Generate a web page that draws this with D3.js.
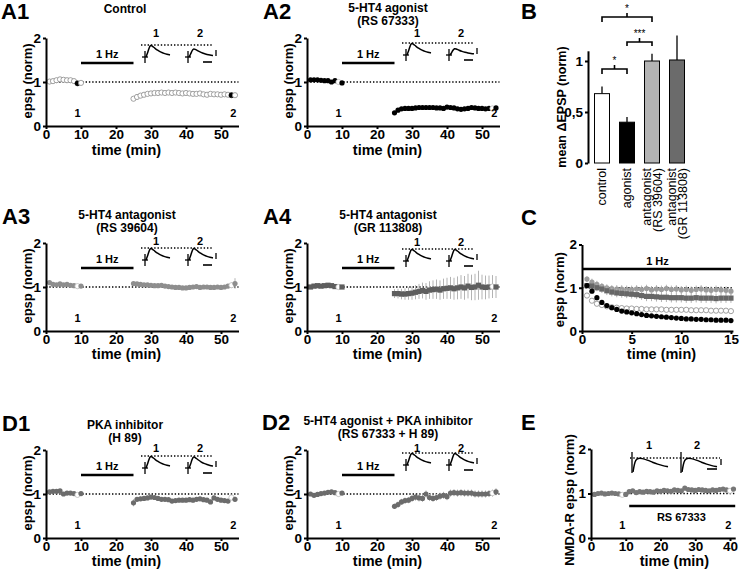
<!DOCTYPE html>
<html><head><meta charset="utf-8">
<script src="https://cdn.jsdelivr.net/npm/d3@7"></script>
<style>body{margin:0;background:#fff}svg{display:block}</style>
</head><body><svg id="c" width="745" height="569"></svg>
<script>
// ---------------- DATA ----------------
const baseTimes = [1,2,3,4,5,6,7,8,9,10];
const postTimes = [25,26,27,28,29,30,31,32,33,34,35,36,37,38,39,40,41,42,43,44,45,46,47,48,49,50,51,52,53,54];
const sampleIdx = [8, 38]; // sample points "1" (t=9) and "2" (t=53)

const ctrlBase = [1.01,1.02,1.04,1.06,1.05,1.04,1.04,1.02,0.97,0.98];
const ctrlPost = [0.62,0.66,0.69,0.71,0.73,0.74,0.75,0.75,0.76,0.75,0.76,0.75,0.76,0.75,0.74,0.75,0.74,0.73,0.73,0.74,0.72,0.71,0.73,0.72,0.72,0.71,0.72,0.71,0.70,0.70];

const agoBase = [1.05,1.05,1.05,1.04,1.03,1.03,1.00,1.03,1.00,0.98];
const agoPost = [0.30,0.36,0.39,0.40,0.40,0.40,0.41,0.42,0.42,0.42,0.42,0.42,0.41,0.41,0.40,0.43,0.42,0.41,0.39,0.38,0.39,0.40,0.42,0.41,0.40,0.40,0.39,0.40,0.40,0.41];

const rsBase = [1.10,1.06,1.05,1.07,1.05,1.06,1.04,1.03,1.02,1.02];
const rsPost = [1.08,1.07,1.06,1.05,1.05,1.04,1.03,1.03,1.04,1.02,1.01,1.00,0.99,0.99,0.98,0.98,0.99,1.00,1.01,0.99,1.00,1.00,0.99,0.99,1.00,0.99,1.00,1.02,1.04,1.08];
const rsErrBase = [0.04,0.03,0.03,0.03,0.03,0.03,0.03,0.03,0.03,0.03];
const rsErrPost = [0.04,0.03,0.03,0.03,0.03,0.03,0.03,0.03,0.03,0.03,0.03,0.03,0.03,0.03,0.03,0.03,0.03,0.03,0.03,0.03,0.03,0.03,0.03,0.03,0.03,0.03,0.04,0.05,0.06,0.12];

const grBase = [1.00,1.02,1.03,1.02,1.03,1.04,1.03,1.01,1.00,1.00];
const grPost = [0.85,0.85,0.84,0.84,0.85,0.86,0.88,0.90,0.92,0.90,0.93,0.94,0.95,0.93,0.96,0.97,0.98,0.96,0.98,1.00,0.98,1.02,0.99,1.00,1.04,1.00,0.99,1.00,1.01,1.00];
const grErrBase = [0.03,0.03,0.03,0.03,0.03,0.03,0.03,0.03,0.03,0.03];
const grErrPost = [0.10,0.11,0.12,0.13,0.14,0.15,0.16,0.17,0.18,0.19,0.20,0.21,0.22,0.22,0.23,0.24,0.25,0.25,0.26,0.27,0.27,0.28,0.29,0.30,0.33,0.28,0.27,0.26,0.26,0.25];

const h89Base = [1.05,1.06,1.06,1.07,1.00,1.02,1.02,1.01,0.98,1.01];
const h89Post = [0.80,0.88,0.89,0.90,0.91,0.93,0.92,0.90,0.88,0.88,0.87,0.84,0.85,0.86,0.86,0.86,0.87,0.86,0.88,0.89,0.87,0.86,0.82,0.91,0.88,0.86,0.85,0.84,0.92,0.88];
const h89ErrBase = [0.03,0.03,0.03,0.03,0.03,0.03,0.03,0.03,0.03,0.03];
const h89ErrPost = [0.08,0.05,0.05,0.05,0.05,0.05,0.05,0.05,0.05,0.05,0.05,0.05,0.05,0.05,0.05,0.05,0.05,0.05,0.05,0.05,0.05,0.05,0.05,0.05,0.05,0.05,0.05,0.05,0.06,0.06];

const agoH89Base = [1.00,0.97,0.99,1.01,1.02,1.04,1.05,1.03,1.00,1.02];
const agoH89Post = [0.72,0.76,0.82,0.85,0.86,0.90,0.93,0.91,0.90,1.00,0.92,0.90,0.92,0.95,0.97,0.94,1.02,1.03,1.02,1.03,1.02,1.02,1.02,1.00,1.00,1.00,1.00,1.01,1.02,1.05];
const agoH89ErrBase = [0.03,0.03,0.03,0.03,0.03,0.03,0.03,0.03,0.03,0.03];
const agoH89ErrPost = [0.06,0.07,0.07,0.07,0.07,0.08,0.08,0.08,0.08,0.08,0.08,0.08,0.08,0.08,0.08,0.08,0.08,0.08,0.08,0.08,0.08,0.08,0.08,0.08,0.08,0.08,0.08,0.08,0.08,0.08];

// Panel C (first 15 min of 1 Hz)
const cTimes = [0.5,1,1.5,2,2.5,3,3.5,4,4.5,5,5.5,6,6.5,7,7.5,8,8.5,9,9.5,10,10.5,11,11.5,12,12.5,13,13.5,14,14.5,15];
const cAgonist = [1.05,0.92,0.77,0.66,0.59,0.54,0.50,0.46,0.44,0.42,0.40,0.38,0.36,0.35,0.34,0.33,0.32,0.31,0.30,0.29,0.28,0.28,0.27,0.27,0.26,0.26,0.25,0.25,0.25,0.24];
const cControl = [0.82,0.70,0.63,0.60,0.57,0.55,0.54,0.53,0.52,0.52,0.51,0.51,0.50,0.50,0.50,0.50,0.49,0.49,0.49,0.49,0.49,0.48,0.48,0.48,0.48,0.47,0.47,0.47,0.47,0.46];
const cControlErr = [0.06,0.05,0.05,0.05,0.05,0.05,0.05,0.05,0.05,0.05,0.05,0.05,0.05,0.05,0.05,0.05,0.05,0.05,0.05,0.05,0.05,0.05,0.05,0.05,0.05,0.05,0.05,0.05,0.05,0.05];
const cRS = [1.20,1.13,1.08,1.03,1.00,0.98,0.97,0.97,0.96,0.96,0.97,0.96,0.98,0.95,0.97,0.96,0.98,0.96,0.97,0.95,0.96,0.94,0.96,0.97,0.95,0.94,0.96,0.95,0.94,0.92];
const cRSErr = [0.07,0.08,0.08,0.08,0.08,0.08,0.09,0.09,0.09,0.09,0.09,0.09,0.09,0.09,0.09,0.09,0.09,0.09,0.09,0.09,0.09,0.09,0.09,0.09,0.09,0.09,0.09,0.09,0.09,0.09];
const cGR = [1.05,1.04,1.00,0.97,0.93,0.90,0.88,0.87,0.86,0.85,0.84,0.82,0.80,0.80,0.79,0.78,0.78,0.77,0.77,0.77,0.76,0.76,0.77,0.76,0.76,0.76,0.75,0.76,0.76,0.76];
const cGRErr = [0.06,0.07,0.08,0.09,0.10,0.10,0.10,0.10,0.10,0.10,0.10,0.10,0.11,0.11,0.11,0.11,0.11,0.11,0.11,0.11,0.11,0.11,0.11,0.11,0.11,0.11,0.11,0.11,0.11,0.11];

// Panel B
const bCategories = ["control","agonist","antagonist (RS 39604)","antagonist (GR 113808)"];
const bLabelLines = [["control"],["agonist"],["antagonist","(RS 39604)"],["antagonist","(GR 113808)"]];
const bMeans = [0.68,0.40,1.00,1.01];
const bSem = [0.07,0.05,0.07,0.24];
const bSig = [["control","agonist","*"],["agonist","antagonist (RS 39604)","***"],["control","antagonist (RS 39604)","*"]];

// Panel E (NMDA-R epsp, RS 67333 from t=11)
const eTimes = [1,2,3,4,5,6,7,8,9,10,11,12,13,14,15,16,17,18,19,20,21,22,23,24,25,26,27,28,29,30,31,32,33,34,35,36,37,38,39,40,41];
const eValues = [0.98,1.00,1.01,0.99,1.00,1.01,1.00,0.99,0.97,0.98,1.04,1.06,1.02,1.04,1.03,1.05,1.04,1.03,1.06,1.05,1.07,1.06,1.05,1.08,1.07,1.06,1.12,1.09,1.08,1.07,1.09,1.08,1.07,1.06,1.08,1.07,1.09,1.10,1.08,1.06,1.10];
const eSampleIdx = [8, 39];

// Ticks
const yTicks = [0,1,2];
const timeTicks = [0,10,20,30,40,50];
const cTicks = [0,5,10,15];
const eTicks = [0,10,20,30,40];
const bTicks = [0,0.5,1];

// Inset example traces (normalized epsp shapes)
const epspShape = [[0,0],[1,0.3],[2,0.75],[3,1],[4,0.93],[6,0.72],[8,0.54],[10,0.4],[12,0.3],[14,0.22],[16,0.17]];
const nmdaShape = [[0,0],[1,0.55],[2,0.85],[4,1],[7,0.97],[11,0.85],[15,0.7],[19,0.56],[23,0.45],[27,0.38]];

// ---------------- DRAWING ----------------
const FONT = '"Liberation Sans", Arial, Helvetica, sans-serif';
const svg = d3.select("#c");
svg.append("rect").attr("width",745).attr("height",569).attr("fill","#fff");

function txt(g, x, y, s, opt={}) {
  const t = g.append("text").attr("x", x).attr("y", y).text(s)
    .attr("font-family", FONT).attr("font-size", opt.size || 12)
    .attr("font-weight", opt.weight || "bold").attr("fill", "#000")
    .attr("text-anchor", opt.anchor || "middle");
  if (opt.rotate) t.attr("transform", `rotate(-90,${x},${y})`);
  if (opt.dy) t.attr("dy", opt.dy);
  return t;
}
function styleAxis(sel, fs) {
  sel.select(".domain").attr("stroke","#000").attr("stroke-width",2);
  sel.selectAll(".tick line").attr("stroke","#000").attr("stroke-width",2);
  sel.selectAll(".tick text").attr("font-family",FONT).attr("font-size",fs||13.5)
    .attr("font-weight","bold").attr("fill","#000");
}
function dotted(g, x1, x2, y) {
  g.append("line").attr("x1",x1).attr("x2",x2).attr("y1",y).attr("y2",y)
   .attr("stroke","#000").attr("stroke-width",1.4).attr("stroke-dasharray","1.4 1.9");
}
function drawPoints(g, x, y, t, v, err, style, highlight) {
  const data = t.map((tt,i)=>({t:tt, v:v[i], e: err ? err[i] : 0, i}));
  if (err) {
    g.append("g").selectAll("line").data(data).join("line")
     .attr("x1",d=>x(d.t)).attr("x2",d=>x(d.t))
     .attr("y1",d=>y(d.v-d.e)).attr("y2",d=>y(d.v+d.e))
     .attr("stroke","#b3b3b3").attr("stroke-width",1);
  }
  const pg = g.append("g");
  data.forEach(d => {
    const hl = highlight && highlight.includes(d.i);
    let fill = style.fill, stroke = style.stroke || "none", sw = style.sw || 0;
    if (hl) {
      if (style.open) { fill = "#000"; stroke = "#000"; sw = 0.5; }
      else { fill = "#fff"; stroke = "#bbb"; sw = 0.8; }
    }
    if (style.shape === "square" && !hl) {
      pg.append("rect").attr("x", x(d.t)-2.6).attr("y", y(d.v)-2.6).attr("width",5.2).attr("height",5.2)
        .attr("fill", fill).attr("stroke", stroke).attr("stroke-width", sw);
    } else {
      pg.append("circle").attr("cx", x(d.t)).attr("cy", y(d.v)).attr("r", style.r || 2.6)
        .attr("fill", fill).attr("stroke", stroke).attr("stroke-width", sw);
    }
  });
}
function drawInset(g, ox, dotY, amps, lblDy) {
  dotted(g, ox+95, ox+167, dotY);
  const amp = 12, base = dotY + amp;
  const line = d3.line().curve(d3.curveBasis);
  [[ox+99, amps[0], "1", ox+110], [ox+142, amps[1], "2", ox+154]].forEach(([sx,a,lab,lx]) => {
    g.append("line").attr("x1",sx).attr("x2",sx).attr("y1",base-6).attr("y2",base+6).attr("stroke","#000").attr("stroke-width",1.3);
    g.append("line").attr("x1",sx-3).attr("x2",sx+3).attr("y1",base).attr("y2",base).attr("stroke","#000").attr("stroke-width",1.3);
    const tx = d3.scaleLinear().domain([0,16]).range([sx+1, sx+25]);
    const ty = d3.scaleLinear().domain([0,1]).range([base, base - a*amp]);
    g.append("path").attr("d", line(epspShape.map(p=>[tx(p[0]), ty(p[1])])))
      .attr("fill","none").attr("stroke","#000").attr("stroke-width",1.5);
    txt(g, lx, dotY + (lblDy||-4), lab, {size:11});
  });
  g.append("line").attr("x1",ox+170).attr("x2",ox+170).attr("y1",base-7).attr("y2",base-1).attr("stroke","#000").attr("stroke-width",1.3);
  g.append("line").attr("x1",ox+157).attr("x2",ox+166).attr("y1",base+5).attr("y2",base+5).attr("stroke","#000").attr("stroke-width",1.6);
}

function timePanel(o) {
  const g = svg.append("g");
  const x = d3.scaleLinear().domain([0, 55]).range([o.x0, o.x0 + 55*3.5]);
  const y = d3.scaleLinear().domain([0, 2]).range([o.y0, o.y0 - 88]);
  dotted(g, x(0), x(55), y(1));
  // 1 Hz stimulation bar
  g.append("line").attr("x1",x(10)).attr("x2",x(25)).attr("y1",y(2)+25).attr("y2",y(2)+25).attr("stroke","#000").attr("stroke-width",2.6);
  txt(g, x(17.5), y(2)+20, "1 Hz", {size:11});
  const t = baseTimes.concat(postTimes);
  const v = o.base.concat(o.post);
  const e = o.errBase ? o.errBase.concat(o.errPost) : null;
  drawPoints(g, x, y, t, v, e, o.style, sampleIdx);
  const ya = g.append("g").attr("transform",`translate(${o.x0},0)`)
    .call(d3.axisLeft(y).tickValues(yTicks).tickFormat(d3.format("d")).tickSize(3).tickSizeOuter(0).tickPadding(2));
  styleAxis(ya);
  const xa = g.append("g").attr("transform",`translate(0,${o.y0})`)
    .call(d3.axisBottom(x).tickValues(timeTicks).tickFormat(d3.format("d")).tickSize(3).tickSizeOuter(0).tickPadding(0));
  styleAxis(xa);
  txt(g, o.x0-19, y(1)-1, "epsp (norm)", {size:13, rotate:true, dy:"0.35em"});
  txt(g, x(23), o.y0+o.xtDy, "time (min)", {size:14.5});
  txt(g, x(9), o.y0-9, "1", {size:11});
  txt(g, x(53.5), o.y0-9, "2", {size:11});
  o.title.forEach((s,i)=> txt(g, o.titleX, o.titleY + i*13, s, {size:12}));
  txt(g, o.letterX, o.letterY, o.letter, {size:22, anchor:"start"});
  drawInset(g, o.x0, o.dotY, o.amps, o.lblDy);
}

timePanel({x0:46, y0:126, base:ctrlBase, post:ctrlPost, style:{fill:"#fff", stroke:"#8a8a8a", sw:0.8, open:true},
  title:["Control"], titleX:125, titleY:13, letter:"A1", letterX:1, letterY:19, dotY:45, amps:[1,0.7], lblDy:-8, xtDy:29});
timePanel({x0:307, y0:126, base:agoBase, post:agoPost, style:{fill:"#000"},
  title:["5-HT4 agonist","(RS 67333)"], titleX:388, titleY:12, letter:"A2", letterX:263, letterY:19, dotY:43, amps:[1,0.55], lblDy:-6, xtDy:29});
timePanel({x0:46, y0:331, base:rsBase, post:rsPost, errBase:rsErrBase, errPost:rsErrPost, style:{fill:"#8e8e8e"},
  title:["5-HT4 antagonist","(RS 39604)"], titleX:127, titleY:219, letter:"A3", letterX:2, letterY:224, dotY:248, amps:[1,1], lblDy:-3, xtDy:28});
timePanel({x0:307, y0:331, base:grBase, post:grPost, errBase:grErrBase, errPost:grErrPost, style:{fill:"#5e5e5e", shape:"square"},
  title:["5-HT4 antagonist","(GR 113808)"], titleX:388, titleY:219, letter:"A4", letterX:263, letterY:224, dotY:249, amps:[1,1], lblDy:-3, xtDy:28});
timePanel({x0:46, y0:538, base:h89Base, post:h89Post, errBase:h89ErrBase, errPost:h89ErrPost, style:{fill:"#6c6c6c"},
  title:["PKA inhibitor","(H 89)"], titleX:125, titleY:429, letter:"D1", letterX:2, letterY:431, dotY:456, amps:[1,0.95], lblDy:-4, xtDy:28});
timePanel({x0:307, y0:538, base:agoH89Base, post:agoH89Post, errBase:agoH89ErrBase, errPost:agoH89ErrPost, style:{fill:"#6c6c6c"},
  title:["5-HT4 agonist + PKA inhibitor","(RS 67333 + H 89)"], titleX:388, titleY:425, letter:"D2", letterX:262, letterY:430, dotY:453, amps:[1,1], lblDy:-1, xtDy:28});

// ---------- Panel B ----------
(function(){
  const g = svg.append("g");
  const x = d3.scaleBand().domain(bCategories).range([589.5, 689.5]).paddingInner(0.4).paddingOuter(0.2);
  const y = d3.scaleLinear().domain([0, 1.1]).range([163, 163 - 1.1*102]);
  const fills = ["#fff","#000","#b3b3b3","#6b6b6b"];
  g.selectAll("line.err").data(bMeans).join("line")
    .attr("x1",(d,i)=>x(bCategories[i])+x.bandwidth()/2).attr("x2",(d,i)=>x(bCategories[i])+x.bandwidth()/2)
    .attr("y1",d=>y(d)).attr("y2",(d,i)=>y(d+bSem[i])).attr("stroke","#000").attr("stroke-width",1.3);
  g.selectAll("rect").data(bMeans).join("rect")
    .attr("x",(d,i)=>x(bCategories[i])).attr("width",x.bandwidth())
    .attr("y",d=>y(d)).attr("height",d=>y(0)-y(d))
    .attr("fill",(d,i)=>fills[i]).attr("stroke","#000").attr("stroke-width",1);
  const ya = g.append("g").attr("transform","translate(588,0)")
    .call(d3.axisLeft(y).tickValues(bTicks).tickFormat(d=>d===0.5?"0,5":d3.format("d")(d)).tickSize(3).tickSizeOuter(0).tickPadding(2));
  styleAxis(ya);
  bLabelLines.forEach((lines,i)=>{
    const cx = x(bCategories[i]) + x.bandwidth()/2;
    lines.forEach((s,j)=>{
      const lx = cx + (j - (lines.length-1)/2)*10.5;
      txt(g, lx, 168, s, {size:12.5, weight:"normal", anchor:"end", rotate:true, dy:"0.35em"});
    });
  });
  txt(g, 562, 107, "mean \u0394EPSP (norm)", {size:12.5, rotate:true, dy:"0.35em"});
  const sigY = [69, 42, 17];
  bSig.forEach(([a,b,lab],k)=>{
    const xa = x(a)+x.bandwidth()/2, xb = x(b)+x.bandwidth()/2, yy = sigY[k];
    const arm = k===1 ? 4 : 5;
    g.append("path").attr("d",`M${xa},${yy+arm}V${yy}H${xb}V${yy+arm}M${(xa+xb)/2},${yy}V${yy-4}`)
      .attr("fill","none").attr("stroke","#000").attr("stroke-width",1.6);
    txt(g, (xa+xb)/2, yy-5, lab, {size:10, weight:"normal"});
  });
  txt(g, 521, 19, "B", {size:22, anchor:"start"});
})();

// ---------- Panel C ----------
(function(){
  const g = svg.append("g");
  const x = d3.scaleLinear().domain([0, 15.2]).range([582, 582 + 15.2*9.93]);
  const y = d3.scaleLinear().domain([0, 2]).range([331, 331 - 86.5]);
  dotted(g, x(0), x(15.2), y(1));
  g.append("line").attr("x1",x(0)).attr("x2",x(15)).attr("y1",269).attr("y2",269).attr("stroke","#000").attr("stroke-width",2.6);
  txt(g, x(7.6), 265, "1 Hz", {size:11});
  drawPoints(g, x, y, cTimes, cRS, cRSErr, {fill:"#9c9c9c"});
  drawPoints(g, x, y, cTimes, cGR, cGRErr, {fill:"#676767", shape:"square"});
  drawPoints(g, x, y, cTimes, cControl, cControlErr, {fill:"#fff", stroke:"#8a8a8a", sw:0.8});
  drawPoints(g, x, y, cTimes, cAgonist, null, {fill:"#000"});
  const ya = g.append("g").attr("transform","translate(582,0)")
    .call(d3.axisLeft(y).tickValues(yTicks).tickFormat(d3.format("d")).tickSize(3).tickSizeOuter(0).tickPadding(2));
  styleAxis(ya);
  const xa = g.append("g").attr("transform","translate(0,331)")
    .call(d3.axisBottom(x).tickValues(cTicks).tickFormat(d3.format("d")).tickSize(3).tickSizeOuter(0).tickPadding(0));
  styleAxis(xa);
  txt(g, 559, y(1)+2, "epsp (norm)", {size:13, rotate:true, dy:"0.35em"});
  txt(g, x(8), 359, "time (min)", {size:14.5});
  txt(g, 521, 225, "C", {size:22, anchor:"start"});
})();

// ---------- Panel E ----------
(function(){
  const g = svg.append("g");
  const x = d3.scaleLinear().domain([0, 41.5]).range([591, 591 + 41.5*3.475]);
  const y = d3.scaleLinear().domain([0, 2]).range([538, 538 - 89]);
  dotted(g, x(0), x(41.5), y(1));
  g.append("line").attr("x1",x(11)).attr("x2",x(41.5)).attr("y1",506).attr("y2",506).attr("stroke","#000").attr("stroke-width",2.6);
  txt(g, x(26), 521, "RS 67333", {size:11});
  drawPoints(g, x, y, eTimes, eValues, null, {fill:"#777"}, eSampleIdx);
  const ya = g.append("g").attr("transform","translate(591,0)")
    .call(d3.axisLeft(y).tickValues(yTicks).tickFormat(d3.format("d")).tickSize(3).tickSizeOuter(0).tickPadding(2));
  styleAxis(ya);
  const xa = g.append("g").attr("transform","translate(0,538)")
    .call(d3.axisBottom(x).tickValues(eTicks).tickFormat(d3.format("d")).tickSize(3).tickSizeOuter(0).tickPadding(0));
  styleAxis(xa);
  txt(g, 569, 500, "NMDA-R epsp (norm)", {size:13, rotate:true, dy:"0.35em"});
  txt(g, x(24), 566, "time (min)", {size:14.5});
  txt(g, x(9), 529, "1", {size:11});
  txt(g, x(39.5), 529, "2", {size:11});
  txt(g, 521, 430, "E", {size:22, anchor:"start"});
  // inset NMDA traces
  dotted(g, 630, 720, 458);
  const line = d3.line().curve(d3.curveBasis);
  const base = 472, amp = 14;
  [[632, "1", 649], [681, "2", 697]].forEach(([sx, lab, lx])=>{
    g.append("line").attr("x1",sx).attr("x2",sx).attr("y1",452).attr("y2",473).attr("stroke","#000").attr("stroke-width",1.3);
    const tx = d3.scaleLinear().domain([0,27]).range([sx+1, sx+36]);
    const ty = d3.scaleLinear().domain([0,1]).range([base, base-amp]);
    g.append("path").attr("d", line(nmdaShape.map(p=>[tx(p[0]), ty(p[1])])))
      .attr("fill","none").attr("stroke","#000").attr("stroke-width",1.5);
    txt(g, lx, 449, lab, {size:11});
  });
  g.append("line").attr("x1",721).attr("x2",721).attr("y1",459).attr("y2",465).attr("stroke","#000").attr("stroke-width",1.3);
  g.append("line").attr("x1",707).attr("x2",717).attr("y1",469).attr("y2",469).attr("stroke","#000").attr("stroke-width",1.6);
})();
</script></body></html>
